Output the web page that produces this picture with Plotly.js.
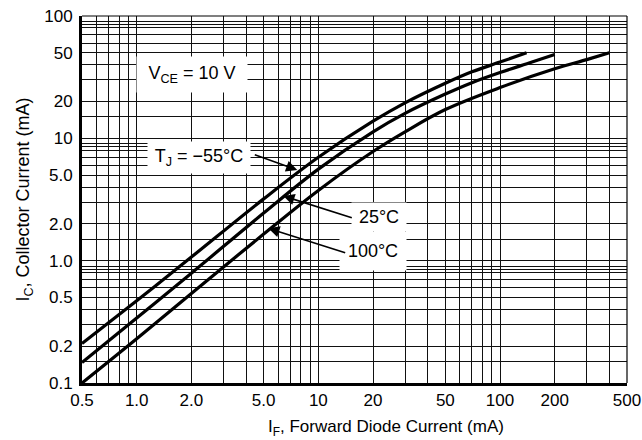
<!DOCTYPE html>
<html>
<head>
<meta charset="utf-8">
<script src="https://cdn.plot.ly/plotly-3.0.1.min.js"></script>
<style>html,body{margin:0;padding:0;background:#fff;}#chart{width:642px;height:440px;}</style>
</head>
<body>
<div id="chart"></div>
<script>
// Forward diode current IF (mA) and collector current IC (mA) per junction temperature
const xM55 = [0.5, 1, 2, 5, 10, 20, 30, 50, 70, 100, 140];
const yM55 = [0.21, 0.47, 1.07, 3.2, 7.0, 13.8, 19.5, 28.2, 35, 42, 50];
const x25 = [0.5, 1, 2, 5, 10, 20, 30, 50, 70, 100, 150, 200];
const y25 = [0.147, 0.34, 0.79, 2.45, 5.6, 11.3, 16, 23, 28.5, 34.5, 42, 48.5];
const x100 = [0.5, 1, 2, 5, 10, 20, 30, 50, 100, 200, 300, 400];
const y100 = [0.1, 0.23, 0.54, 1.65, 3.75, 7.8, 11.3, 17.2, 26, 37, 44, 50];

// Labelled ticks and extra (unlabelled) grid lines
const xTickVals = [0.5, 1, 2, 5, 10, 20, 50, 100, 200, 500];
const xTickText = ['0.5', '1.0', '2.0', '5.0', '10', '20', '50', '100', '200', '500'];
const xGridVals = [0.6, 0.7, 0.8, 0.9, 3, 4, 6, 7, 8, 9, 30, 40, 60, 70, 80, 90, 300, 400];
const yTickVals = [0.1, 0.2, 0.5, 1, 2, 5, 10, 20, 50, 100];
const yTickText = ['0.1', '0.2', '0.5', '1.0', '2.0', '5.0', '10', '20', '50', '100'];
const yGridVals = [0.15, 0.3, 0.4, 0.6, 0.7, 0.8, 0.85, 0.9,
                   1.5, 3, 4, 6, 7, 8, 8.5, 9,
                   15, 30, 40, 60, 70, 80, 85, 90];

const lineStyle = {color: '#000', width: 3.2, shape: 'spline', smoothing: 1};
const traces = [
  {x: xM55, y: yM55, mode: 'lines', line: lineStyle, name: 'TJ = -55°C', hoverinfo: 'skip'},
  {x: x25, y: y25, mode: 'lines', line: lineStyle, name: '25°C', hoverinfo: 'skip'},
  {x: x100, y: y100, mode: 'lines', line: lineStyle, name: '100°C', hoverinfo: 'skip'}
];

const FAM = 'Liberation Sans, Arial, sans-serif';
const tickFont = {family: FAM, size: 17, color: '#000'};
const L = 82, R = 15, T = 16, B = 57, W = 642, H = 440;
const pw = W - L - R, ph = H - T - B;
const px = v => (v - L) / pw;
const py = v => (H - B - v) / ph;

function box(text, cx, cy, w, h) {
  return {text: text, xref: 'paper', yref: 'paper', x: px(cx), y: py(cy), xanchor: 'center', yanchor: 'middle',
          showarrow: false, bgcolor: '#fff', width: w, height: h, font: {family: FAM, size: 18, color: '#000'}, borderpad: 0};
}
function arrow(hx, hy, tx, ty) {
  return {text: '', xref: 'paper', yref: 'paper', x: px(hx), y: py(hy), axref: 'pixel', ayref: 'pixel',
          ax: tx - hx, ay: ty - hy, showarrow: true, arrowhead: 2, arrowsize: 1.4, arrowwidth: 1.6,
          arrowcolor: '#000', standoff: 0};
}

const gridStyle = {showgrid: true, gridcolor: '#111', gridwidth: 1};
const layout = {
  width: W, height: H,
  margin: {l: L, r: R, t: T, b: B},
  paper_bgcolor: '#fff', plot_bgcolor: '#fff',
  showlegend: false,
  font: tickFont,
  xaxis: {
    type: 'log', range: [Math.log10(0.5), Math.log10(500)],
    tickmode: 'array', tickvals: xTickVals, ticktext: xTickText,
    ...gridStyle,
    minor: {tickmode: 'array', tickvals: xGridVals, ticks: '', ...gridStyle},
    showline: true, linecolor: '#000', linewidth: 3,
    ticks: '', tickfont: tickFont, zeroline: false, fixedrange: true
  },
  yaxis: {
    type: 'log', range: [-1, 2],
    tickmode: 'array', tickvals: yTickVals, ticktext: yTickText,
    ...gridStyle,
    minor: {tickmode: 'array', tickvals: yGridVals, ticks: '', ...gridStyle},
    showline: true, linecolor: '#000', linewidth: 3,
    ticks: 'outside', ticklen: 3, tickcolor: 'rgba(0,0,0,0)',
    tickfont: tickFont, zeroline: false, fixedrange: true,
    title: {text: 'I<sub>C</sub>, Collector Current (mA)', font: {family: FAM, size: 18, color: '#000'}, standoff: 10}
  },
  shapes: [
    {type: 'line', xref: 'paper', yref: 'paper', x0: 0, x1: 1, y0: 1, y1: 1, line: {color: '#000', width: 1.2}},
    {type: 'line', xref: 'paper', yref: 'paper', x0: 1, x1: 1, y0: 0, y1: 1, line: {color: '#000', width: 1.2}}
  ],
  annotations: [
    box('V<sub>CE</sub> = 10 V', 192, 74.5, 110, 35),
    box('T<sub>J</sub> = \u221255°C', 199, 157.5, 102, 31),
    box('25°C', 379, 217, 54, 28),
    box('100°C', 373, 251, 66, 38),
    arrow(297.3, 170, 253.3, 154.3),
    arrow(283.3, 196, 353.3, 218.3),
    arrow(268.3, 228.3, 346.7, 253.3),
    {text: 'I<sub>F</sub>, Forward Diode Current (mA)', xref: 'paper', yref: 'paper', x: px(386), y: py(428),
     xanchor: 'center', yanchor: 'middle', showarrow: false, font: {family: FAM, size: 17, color: '#000'}}
  ]
};

Plotly.newPlot('chart', traces, layout, {staticPlot: true, displayModeBar: false});
</script>
</body>
</html>
